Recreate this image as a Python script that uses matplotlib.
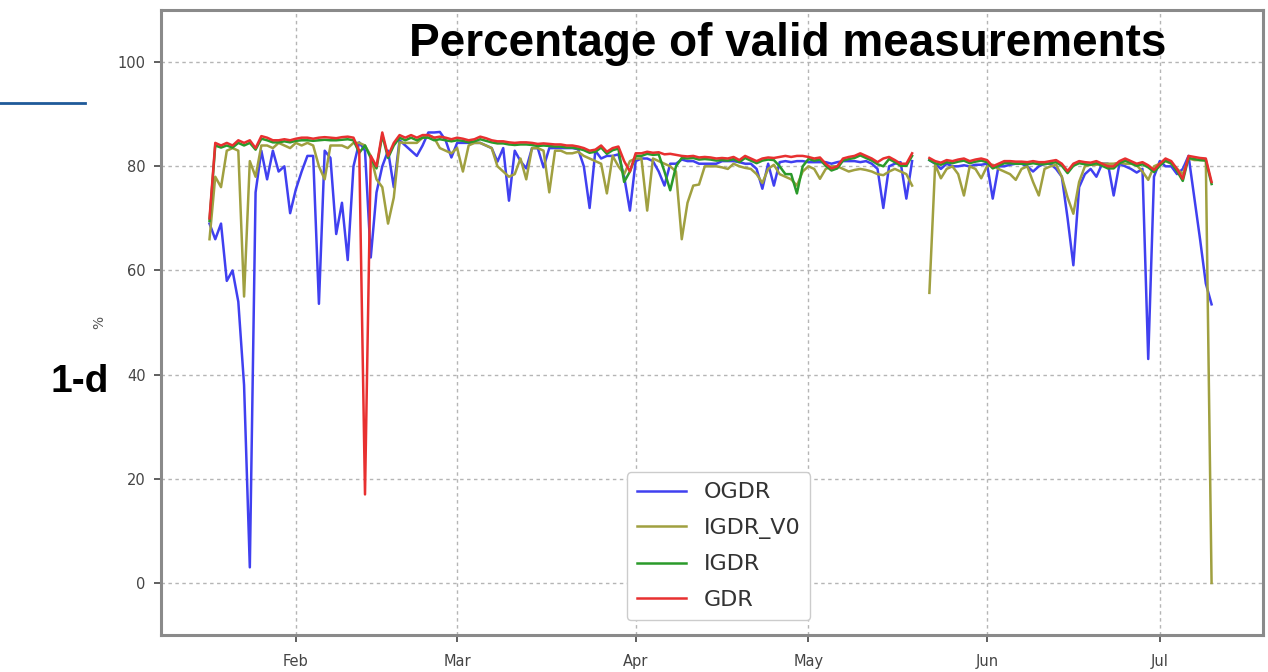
import numpy as np
import matplotlib
matplotlib.use("Agg")
import matplotlib.pyplot as plt
import matplotlib.dates as mdates
from matplotlib.lines import Line2D

nan = np.nan
start_date = "2021-01-17"

ogdr = [69, 66, 69, 58, 60, 54, 38, 3, 75, 83,
        77.5, 83, 79, 80, 71, 75.6, 79, 82, 82, 53.6,
        83, 81.6, 67, 73, 62, 80, 84.6, 83, 62.5, 75,
        80, 83, 76, 85, 84, 83, 82, 84, 86.5, 86.5,
        86.6, 85, 81.7, 84.5, 84.5, 84.5, 84.5, 84.5, 84, 83.5,
        80.9, 83.5, 73.4, 83, 81, 79.6, 83.5, 83.5, 79.8, 83.5,
        83.5, 83.5, 83.5, 83.5, 83.3, 80, 72, 83, 81.5, 82,
        82, 82.3, 78, 71.5, 81, 81.5, 81.5, 81, 79, 76.3,
        80.5, 80.5, 81.3, 81, 81, 80.5, 80.5, 80.5, 80.5, 81,
        81, 81, 80.8, 80.5, 80.5, 79.5, 75.7, 80.5, 76.3, 80.8,
        81, 80.8, 81, 81, 80.8, 80.8, 80.8, 80.8, 80.5, 80.8,
        81, 81, 81, 80.8, 81, 80.5, 79.5, 72, 80, 80.5,
        80.8, 73.8, 81, nan, nan, 81.2, 80.5, 79.5, 80.5, 80,
        80, 80.2, 80, 80.3, 80.3, 80.5, 73.8, 80, 80, 80.3,
        80.5, 80.5, 80, 79, 80, 80.5, 80.5, 79.5, 78, 70,
        61, 76, 78.5, 79.5, 78, 80.5, 80.5, 74.4, 80.5, 80,
        79.5, 78.8, 79.5, 43, 78, 81, 80, 80, 78.5, 79.5,
        82, 74, 66, 57.5, 53.5]

igdr_v0 = [66, 78, 76, 83, 83.5, 83, 55, 81, 78, 84,
           84, 83.5, 84.5, 84, 83.5, 84.5, 84, 84.5, 84, 80,
           77.5, 84, 84, 84, 83.5, 84.5, 84.5, 84, 82, 77.5,
           76, 69, 74, 84.6, 84.5, 84.5, 84.5, 85.5, 86, 85.5,
           83.5, 83, 82.5, 83.5, 79, 84, 84.5, 84.5, 84, 83.5,
           80, 79, 78, 78.5, 81.5, 77.5, 83.5, 83.5, 83, 75,
           83, 83, 82.5, 82.5, 82.8, 82, 81.5, 81, 80.5, 74.8,
           82, 80, 78.5, 81, 81.5, 81.5, 71.5, 81.5, 81, 80.5,
           80, 79, 66, 73, 76.3, 76.5, 80, 80, 80, 79.8,
           79.5, 80.5, 80, 79.7, 79.5, 78.5, 76.8, 79.5, 80.3, 78.5,
           78, 77.5, 76.3, 79, 80, 79.5, 77.6, 79.5, 80, 80,
           79.5, 79, 79.3, 79.5, 79.3, 79, 78.5, 78.3, 79, 79.5,
           79, 78.5, 76.3, nan, nan, 55.7, 80.3, 77.7, 79.5, 80,
           78.5, 74.4, 80, 79.5, 77.7, 80, 80.3, 79.5, 79, 78.5,
           77.4, 79.5, 80, 77, 74.4, 79.5, 80, 80.3, 78, 74,
           70.9, 77, 80, 80.3, 80.3, 80.5, 80.5, 80.5, 80.7, 80.5,
           80.5, 80.2, 79, 77.4, 80, 80.5, 81, 80.5, 79.5, 78.5,
           81.5, 81.2, 81.2, 81.2, 0]

gdr = [70, 84.5, 84, 84.5, 84, 85, 84.5, 85, 83.5, 85.8,
       85.5, 85, 85, 85.2, 85, 85.3, 85.5, 85.5, 85.3, 85.5,
       85.6, 85.5, 85.4, 85.6, 85.7, 85.5, 83, 17, 82, 80,
       86.5, 82, 84.5, 86, 85.5, 86, 85.5, 86, 86, 85.5,
       85.7, 85.5, 85.2, 85.5, 85.3, 85, 85.2, 85.7, 85.4, 85,
       84.8, 84.8, 84.6, 84.5, 84.6, 84.6, 84.5, 84.3, 84.4, 84.3,
       84.2, 84.2, 84, 84, 83.8, 83.5, 83, 83.2, 84, 82.8,
       83.5, 83.8, 81, 79, 82.5, 82.5, 82.8, 82.6, 82.7, 82.3,
       82.4, 82.2, 82, 81.9, 82, 81.7, 81.8, 81.7, 81.5, 81.6,
       81.5, 81.8, 81.2, 82, 81.5, 81, 81.5, 81.7, 81.6, 81.8,
       82, 81.8, 82, 82, 81.8, 81.5, 81.7, 80.5, 79.6, 80,
       81.5, 81.8, 82, 82.5, 82, 81.5, 80.8, 81.5, 81.8, 81.2,
       80.5, 80.5, 82.5, nan, nan, 81.6, 81, 80.7, 81.2, 81,
       81.3, 81.5, 81, 81.3, 81.5, 81.2, 80, 80.5, 81, 81,
       80.9, 80.9, 80.8, 81, 80.8, 80.8, 81, 81.2, 80.5, 79.1,
       80.5, 81, 80.8, 80.7, 81, 80.5, 80, 80, 81, 81.5,
       81, 80.5, 80.8, 80.2, 79.3, 80.5, 81.5, 81, 79.5, 77.6,
       82, 81.8, 81.6, 81.5, 77]

igdr = [69.5, 84, 83.6, 84, 83.6, 84.5, 84, 84.5, 83.2, 85.3,
        85, 84.6, 84.6, 84.8, 84.6, 84.9, 85, 85, 84.9, 85,
        85.1, 85, 85, 85.1, 85.2, 85, 82.6, 84, 81.6, 79.6,
        86, 81.6, 84, 85.5, 85, 85.5, 85, 85.5, 85.5, 85,
        85.2, 85, 84.8, 85, 84.9, 84.6, 84.8, 85.2, 84.9, 84.6,
        84.4, 84.4, 84.2, 84.1, 84.2, 84.2, 84.1, 83.9, 84, 83.9,
        83.8, 83.8, 83.6, 83.6, 83.4, 83.1, 82.6, 82.8, 83.6, 82.4,
        83.1, 83.4, 77, 79, 82, 82, 82.4, 82.2, 82.3, 79,
        75.4, 80, 81.6, 81.5, 81.6, 81.3, 81.4, 81.3, 81.1, 81.2,
        81.1, 81.4, 80.8, 81.6, 81.1, 80.6, 81.1, 81.3, 81.2, 80,
        78.5, 78.5, 74.8, 80, 81.4, 81.1, 81.3, 80.1, 79.2, 79.6,
        81.1, 81.4, 81.6, 82.1, 81.6, 81.1, 80.4, 80, 81.4, 80.8,
        80.1, 80.1, 82, nan, nan, 81.2, 80.6, 80.3, 80.8, 80.6,
        80.9, 81.1, 80.6, 80.9, 81.1, 80.8, 79.6, 80.1, 80.6, 80.6,
        80.5, 80.5, 80.4, 80.6, 80.4, 80.4, 80.6, 80.8, 80.1, 78.7,
        80.1, 80.6, 80.4, 80.3, 80.6, 80.1, 79.6, 79.6, 80.6, 81.1,
        80.6, 80.1, 80.4, 79.8, 78.9, 80.1, 81.1, 80.6, 79.1, 77.2,
        81.6, 81.4, 81.2, 81.1, 76.6]

yticks = [0, 20, 40, 60, 80, 100]

dates = np.arange(np.datetime64(start_date), np.datetime64(start_date) + len(gdr))

fig = plt.figure(figsize=(12.68, 6.72), dpi=100)
ax = fig.add_axes([0.127, 0.055, 0.869, 0.930])

ax.plot(dates, ogdr, color="#4040f0", lw=1.8, label="OGDR")
ax.plot(dates, igdr_v0, color="#a0a040", lw=1.8, label="IGDR_V0")
ax.plot(dates, igdr, color="#2a9a2a", lw=1.8, label="IGDR")
ax.plot(dates, gdr, color="#e83030", lw=1.8, label="GDR")

ax.set_ylim(-10, 110)
ax.set_yticks(yticks)
ax.set_xlim(np.datetime64("2021-01-08T14:00"), np.datetime64("2021-07-18T22:00"))
ax.xaxis.set_major_locator(mdates.MonthLocator())
ax.xaxis.set_major_formatter(mdates.DateFormatter("%b"))
ax.grid(True, color="#b5b5b5", linestyle=(0, (2.5, 2.5)), linewidth=1)
ax.tick_params(labelsize=10.5, colors="#444444", length=5, width=1.2, pad=6)
ax.tick_params(axis="x", pad=9)
for sp in ax.spines.values():
    sp.set_color("#8a8a8a")
    sp.set_linewidth(2.2)
ax.set_ylabel("%", fontsize=10, color="#555555", labelpad=8)

leg = ax.legend(loc="lower left", bbox_to_anchor=(0.4229, 0.024), borderaxespad=0,
                fontsize=16, handlelength=2.2, handletextpad=0.8,
                labelspacing=0.7, borderpad=0.45,
                framealpha=1, edgecolor="#cccccc")
for t in leg.get_texts():
    t.set_color("#333333")

fig.text(0.621, 0.9166, "Percentage of valid measurements", ha="center", va="baseline",
         fontsize=33, fontweight="bold", family="Liberation Sans", color="black")
fig.text(0.04, 0.417, "1-d", ha="left", va="baseline", fontsize=28,
         fontweight="bold", family="Liberation Sans", color="black")
fig.add_artist(Line2D([0.0, 0.067], [0.847, 0.847], transform=fig.transFigure,
                      color="#1f5a99", lw=2))

fig.savefig("out.png", dpi=100, facecolor="white")
